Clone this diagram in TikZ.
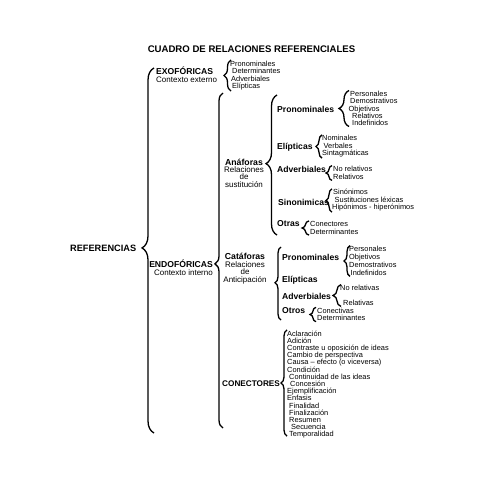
\documentclass[tikz,border=0pt]{standalone}
\usepackage{fontspec}
\setmainfont{Liberation Sans}
\usetikzlibrary{decorations.pathreplacing}

\tikzset{
  titulo/.style={font=\bfseries\fontsize{9.6}{11}\selectfont, inner sep=0pt},
  grupo/.style={font=\bfseries\fontsize{8.6}{9}\selectfont, inner sep=0pt, anchor=west},
  clase/.style={font=\bfseries\fontsize{8.6}{9}\selectfont, inner sep=0pt, anchor=west},
  nota/.style={font=\fontsize{8}{7.4}\selectfont, inner sep=0pt, align=center},
  lista/.style={font=\fontsize{7.4}{#1}\selectfont, inner xsep=0pt, inner ysep=0.5pt, align=left, anchor=west},
  lista/.default=7.5,
  llave/.style={decorate, decoration={brace, amplitude=#1}, line width=1.3pt},
}

\begin{document}
\begin{tikzpicture}[x=1pt, y=-1pt]
    \useasboundingbox (0,0) rectangle (495,495);

    % titulo
    \node[titulo] (tit) at (251.5,49) {CUADRO DE RELACIONES REFERENCIALES};

    % raiz
    \node[grupo, font=\bfseries\fontsize{9.2}{10}\selectfont] (ref) at (70,248) {REFERENCIAS};
    \coordinate (refA) at (154,68);
    \coordinate (refB) at (154,433);
    \draw[llave=12pt, decoration={aspect=0.507}] (refB) -- (refA);

    % exoforicas
    \node[grupo] (exo) at (156,71) {EXOFÓRICAS};
    \node[nota, anchor=west] (exoN) at (156,79.5) {Contexto externo};
    \node[lista=7.6] (exoL) at (230,75.5) {Pronominales\\\hspace{2pt}Determinantes\\\hspace{1pt}Adverbiales\\\hspace{2pt}Elípticas};
    \draw[llave=7pt] ([xshift=1pt]exoL.south west) -- ([xshift=1pt]exoL.north west);

    % endoforicas
    \node[grupo, anchor=east] (endo) at (213,264) {ENDOFÓRICAS};
    \node[nota, anchor=east] (endoN) at (213,273) {Contexto interno};
    \coordinate (endoA) at (223,93);
    \coordinate (endoB) at (223,428);
    \draw[llave=8pt, decoration={aspect=0.49}] (endoB) -- (endoA);

    % anaforas
    \node[nota] (ana) at (244,173) {\textbf{\fontsize{8.7}{7.4}\selectfont Anáforas}\\Relaciones\\de\\sustitución};
    \coordinate (anaA) at (277,95);
    \coordinate (anaB) at (277,235);
    \draw[llave=11pt, decoration={aspect=0.51}] (anaB) -- (anaA);

    \node[clase] (anaPro) at (277,109) {Pronominales};
    \node[lista=7.3] (anaProL) at (350,108.5) {Personales\\Demostrativos\\\hspace{-1.5pt}Objetivos\\\hspace{2pt}Relativos\\\hspace{2pt}Indefinidos};
    \draw[llave=10pt] ([xshift=-1pt]anaProL.south west) -- ([xshift=-1pt]anaProL.north west);

    \node[clase] (anaEli) at (277,147) {Elípticas};
    \node[lista] (anaEliL) at (322,146.5) {Nominales\\\hspace{1.5pt}Verbales\\Sintagmáticas};
    \draw[llave=6pt] (anaEliL.south west) -- (anaEliL.north west);

    \node[clase] (anaAdv) at (277,169) {Adverbiales};
    \node[lista=8] (anaAdvL) at (333,173) {No relativos\\Relativos};
    \draw[llave=6pt] ([xshift=-1pt]anaAdvL.south west) -- ([xshift=-1pt]anaAdvL.north west);

    \node[clase] (anaSin) at (278,202) {Sinonimicas};
    \node[lista] (anaSinL) at (333,200.5) {Sinónimos\\\hspace{1.5pt}Sustituciones léxicas\\\hspace{-1pt}Hipónimos - hiperónimos};
    \draw[llave=6pt] ([xshift=-1pt]anaSinL.south west) -- ([xshift=-1pt]anaSinL.north west);

    \node[clase] (anaOtr) at (277,224) {Otras};
    \node[lista] (anaOtrL) at (310,228) {Conectores\\Determinantes};
    \draw[llave=7pt] ([xshift=-1pt]anaOtrL.south west) -- ([xshift=-1pt]anaOtrL.north west);

    % cataforas
    \node[nota, font=\fontsize{8}{7.7}\selectfont] (cat) at (245,268.5) {\textbf{\fontsize{8.7}{7.7}\selectfont Catáforas}\\Relaciones\\de\\Anticipación};
    \coordinate (catA) at (281,247);
    \coordinate (catB) at (281,320);
    \draw[llave=6pt, decoration={aspect=0.51}] (catB) -- (catA);

    \node[clase] (catPro) at (282,257) {Pronominales};
    \node[lista=8] (catProL) at (349,261) {Personales\\Objetivos\\Demostrativos\\\hspace{1.5pt}Indefinidos};
    \draw[llave=6pt] ([xshift=1pt]catProL.south west) -- ([xshift=1pt]catProL.north west);

    \node[clase] (catEli) at (282,280) {Elípticas};

    \node[clase] (catAdv) at (282,296) {Adverbiales};
    \node[lista=15] (catAdvL) at (340,295.5) {No relativas\\\hspace{3pt}Relativas};
    \draw[llave=8pt] ([xshift=1pt]catAdvL.south west) -- ([xshift=1pt]catAdvL.north west);

    \node[clase] (catOtr) at (282,311) {Otros};
    \node[lista] (catOtrL) at (317,314.5) {Conectivas\\Determinantes};
    \draw[llave=6pt] ([xshift=-1pt]catOtrL.south west) -- ([xshift=-1pt]catOtrL.north west);

    % conectores
    \node[grupo, font=\bfseries\fontsize{8.2}{9}\selectfont] (con) at (222,384) {CONECTORES};
    \node[lista=7.2] (conL) at (287,384.5) {Aclaración\\Adición\\Contraste u oposición de ideas\\Cambio de perspectiva\\Causa -- efecto (o viceversa)\\Condición\\\hspace{2pt}Continuidad de las ideas\\\hspace{3pt}Concesión\\Ejemplificación\\Enfasis\\\hspace{2pt}Finalidad\\\hspace{2pt}Finalización\\\hspace{2pt}Resumen\\\hspace{4pt}Secuencia\\\hspace{2pt}Temporalidad};
    \draw[llave=6pt] ([yshift=3pt]conL.south west) -- (conL.north west);
\end{tikzpicture}
\end{document}
